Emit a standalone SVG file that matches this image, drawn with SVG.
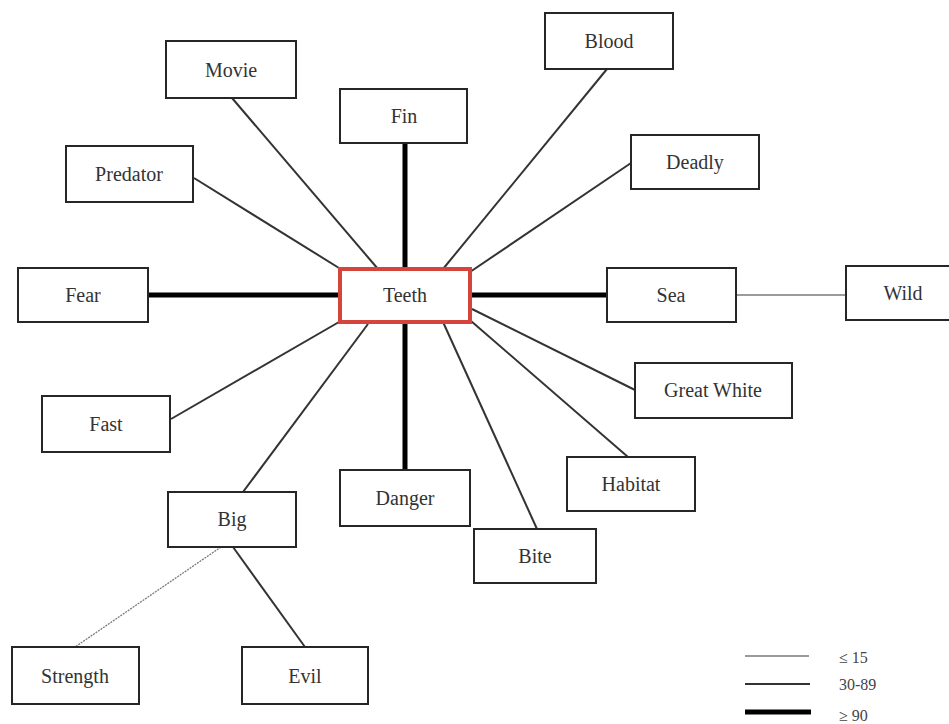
<svg xmlns="http://www.w3.org/2000/svg" width="949" height="724" viewBox="0 0 949 724">
  <style>
    .box { fill: #ffffff; stroke: #262626; stroke-width: 2; }
    .hub { fill: #ffffff; stroke: #d6453b; stroke-width: 4; }
    .lbl { font-family: "Liberation Serif", "Times New Roman", serif; font-size: 20px; fill: #333333; text-anchor: middle; }
    .key { font-family: "Liberation Serif", "Times New Roman", serif; font-size: 16px; fill: #444444; }
    .weak { stroke: #7a7a7a; stroke-width: 1.3; fill: none; }
    .mid { stroke: #333333; stroke-width: 2; fill: none; }
    .strong { stroke: #000000; stroke-width: 5; fill: none; }
  </style>
  <rect width="949" height="724" fill="#ffffff"/>

  <g id="connectors">
    <line class="mid" x1="232" y1="98" x2="378" y2="269"/>
    <line class="mid" x1="194" y1="178" x2="339" y2="268"/>
    <line class="strong" x1="405" y1="143" x2="405" y2="269"/>
    <line class="mid" x1="607" y1="69" x2="443" y2="269"/>
    <line class="mid" x1="631" y1="163" x2="470" y2="272"/>
    <line class="strong" x1="148" y1="295" x2="340" y2="295"/>
    <line class="strong" x1="470" y1="295" x2="607" y2="295"/>
    <line class="weak" x1="736" y1="295" x2="846" y2="295"/>
    <line class="mid" x1="635" y1="390" x2="472" y2="309"/>
    <line class="mid" x1="628" y1="457" x2="471" y2="321"/>
    <line class="mid" x1="537" y1="529" x2="443" y2="322"/>
    <line class="strong" x1="405" y1="322" x2="405" y2="470"/>
    <line class="mid" x1="171" y1="419" x2="339" y2="322"/>
    <line class="mid" x1="243" y1="492" x2="368" y2="324"/>
    <line class="weak" x1="221" y1="547" x2="75" y2="647" stroke="#555555" stroke-width="1.6" stroke-dasharray="2 1"/>
    <line class="mid" x1="233" y1="547" x2="305" y2="647"/>
  </g>

  <g id="node-movie"><rect class="box" x="166" y="41" width="130" height="57"/><text class="lbl" x="231" y="77">Movie</text></g>
  <g id="node-fin"><rect class="box" x="340" y="89" width="127" height="54"/><text class="lbl" x="404" y="123">Fin</text></g>
  <g id="node-blood"><rect class="box" x="545" y="13" width="128" height="56"/><text class="lbl" x="609" y="48">Blood</text></g>
  <g id="node-deadly"><rect class="box" x="631" y="135" width="128" height="54"/><text class="lbl" x="695" y="169">Deadly</text></g>
  <g id="node-predator"><rect class="box" x="66" y="146" width="127" height="56"/><text class="lbl" x="129" y="181">Predator</text></g>
  <g id="node-fear"><rect class="box" x="18" y="268" width="130" height="54"/><text class="lbl" x="83" y="302">Fear</text></g>
  <g id="node-teeth"><rect class="hub" x="340" y="269" width="130" height="53"/><text class="lbl" x="405" y="302">Teeth</text></g>
  <g id="node-sea"><rect class="box" x="607" y="268" width="129" height="54"/><text class="lbl" x="671" y="302">Sea</text></g>
  <g id="node-wild"><rect class="box" x="846" y="266" width="120" height="54"/><text class="lbl" x="903" y="300">Wild</text></g>
  <g id="node-great-white"><rect class="box" x="635" y="363" width="157" height="55"/><text class="lbl" x="713" y="397">Great White</text></g>
  <g id="node-fast"><rect class="box" x="42" y="396" width="128" height="56"/><text class="lbl" x="106" y="431">Fast</text></g>
  <g id="node-big"><rect class="box" x="168" y="492" width="128" height="55"/><text class="lbl" x="232" y="526">Big</text></g>
  <g id="node-danger"><rect class="box" x="340" y="470" width="130" height="56"/><text class="lbl" x="405" y="505">Danger</text></g>
  <g id="node-habitat"><rect class="box" x="567" y="457" width="128" height="54"/><text class="lbl" x="631" y="491">Habitat</text></g>
  <g id="node-bite"><rect class="box" x="474" y="529" width="122" height="54"/><text class="lbl" x="535" y="563">Bite</text></g>
  <g id="node-strength"><rect class="box" x="12" y="647" width="127" height="57"/><text class="lbl" x="75" y="683">Strength</text></g>
  <g id="node-evil"><rect class="box" x="242" y="647" width="126" height="57"/><text class="lbl" x="305" y="683">Evil</text></g>

  <g id="legend">
    <line class="weak" x1="745" y1="656" x2="809" y2="656"/>
    <line class="mid" x1="745" y1="684" x2="810" y2="684"/>
    <line class="strong" x1="745" y1="712" x2="811" y2="712"/>
    <text class="key" x="839" y="663">≤ 15</text>
    <text class="key" x="839" y="690">30-89</text>
    <text class="key" x="839" y="721">≥ 90</text>
  </g>
</svg>
